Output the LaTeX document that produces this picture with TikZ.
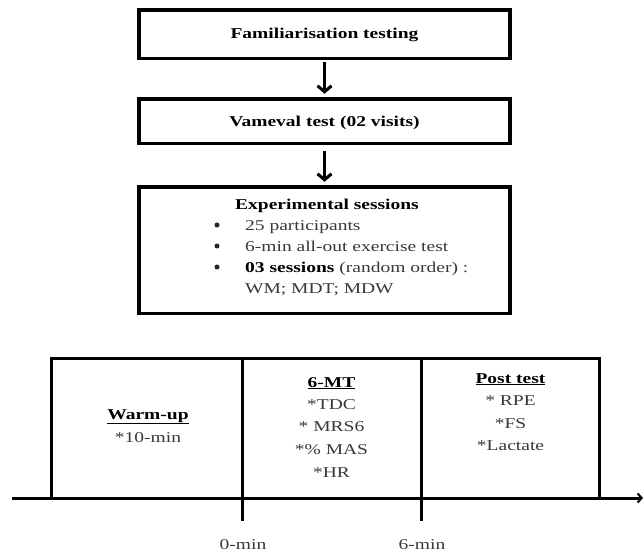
\documentclass[tikz,border=0pt]{standalone}
\usepackage{fontspec}
\setmainfont{Liberation Serif}[FakeStretch=1.3]
\usetikzlibrary{arrows.meta}
\begin{document}
\begin{tikzpicture}[x=1pt,y=-1pt,
 box/.style={draw, line width=3.5pt, minimum width=371pt, inner sep=0pt, outer sep=0pt},
 hd/.style={font=\fontsize{15}{18}\selectfont\bfseries, inner sep=0pt, anchor=base},
 tx/.style={font=\fontsize{15}{18}\selectfont, text=black!78, inner sep=0pt, anchor=base},
 dot/.style={circle, fill=black!85, inner sep=0pt, minimum size=5pt},
 arr/.style={line width=3pt, -{Straight Barb[length=6pt,width=14pt,line width=3pt]}},
 cell/.style={draw, line width=3pt, minimum height=139.5pt, inner sep=0pt, outer sep=0pt},
 thick3/.style={line width=3pt},
]
\useasboundingbox (0,0) rectangle (644,555);
% flow boxes
\node[box, minimum height=48.5pt] (f) at (324.5,34) {};
\node[hd] (ft) at (324.5,38) {Familiarisation testing};
\node[box, minimum height=44.5pt] (v) at (324.5,121) {};
\node[hd] (vt) at (324.5,126) {Vameval test (02 visits)};
\node[box, minimum height=126.5pt] (e) at (324.5,250) {};
\node[hd] (et) at (327,209) {Experimental sessions};
\node[dot] (b1) at (217,225) {};
\node[dot] (b2) at (217,246) {};
\node[dot] (b3) at (217,267) {};
\node[tx, anchor=base west] (i1) at (245,230) {25 participants};
\node[tx, anchor=base west] (i2) at (245,251) {6-min all-out exercise test};
\node[tx, anchor=base west] (i3) at (245,272) {{\color{black}\bfseries 03 sessions} (random order) :};
\node[tx, anchor=base west] (i4) at (245,293) {WM; MDT; MDW};
\draw[arr, shorten <=4pt, shorten >=5pt] (f) -- (v);
\draw[arr, shorten <=8pt, shorten >=5pt] (v) -- (e);
% timeline
\coordinate (ax0) at (12,498);
\coordinate (ax1) at (643,498);
\node[cell, minimum width=191pt] (c1) at (146.5,428.25) {};
\node[cell, minimum width=179pt] (c2) at (331.5,428.25) {};
\node[cell, minimum width=178pt] (c3) at (510,428.25) {};
\draw[thick3, -{Straight Barb[length=4pt,width=9pt,line width=2pt]}] (ax0) -- (ax1);
\coordinate (t0) at (242,521);
\coordinate (t6) at (421,521);
\draw[thick3] (c1.south east) -- (t0);
\draw[thick3] (c2.south east) -- (t6);
\node[tx] (l0) at (243,549) {0-min};
\node[tx] (l6) at (422,549) {6-min};
% cell texts
\node[hd] (w1) at (148,419) {\underline{Warm-up}};
\node[tx] (w2) at (148,442) {*10-min};
\node[hd] (m0) at (331.5,387) {\underline{6-MT}};
\node[tx] (m1) at (331.5,409) {*TDC};
\node[tx] (m2) at (331.5,431.5) {* MRS6};
\node[tx] (m3) at (331.5,454) {*\% MAS};
\node[tx] (m4) at (331.5,477) {*HR};
\node[hd] (p0) at (510.5,383) {\underline{Post test}};
\node[tx] (p1) at (510.5,405) {* RPE};
\node[tx] (p2) at (510.5,428) {*FS};
\node[tx] (p3) at (510.5,450) {*Lactate};
\end{tikzpicture}
\end{document}
